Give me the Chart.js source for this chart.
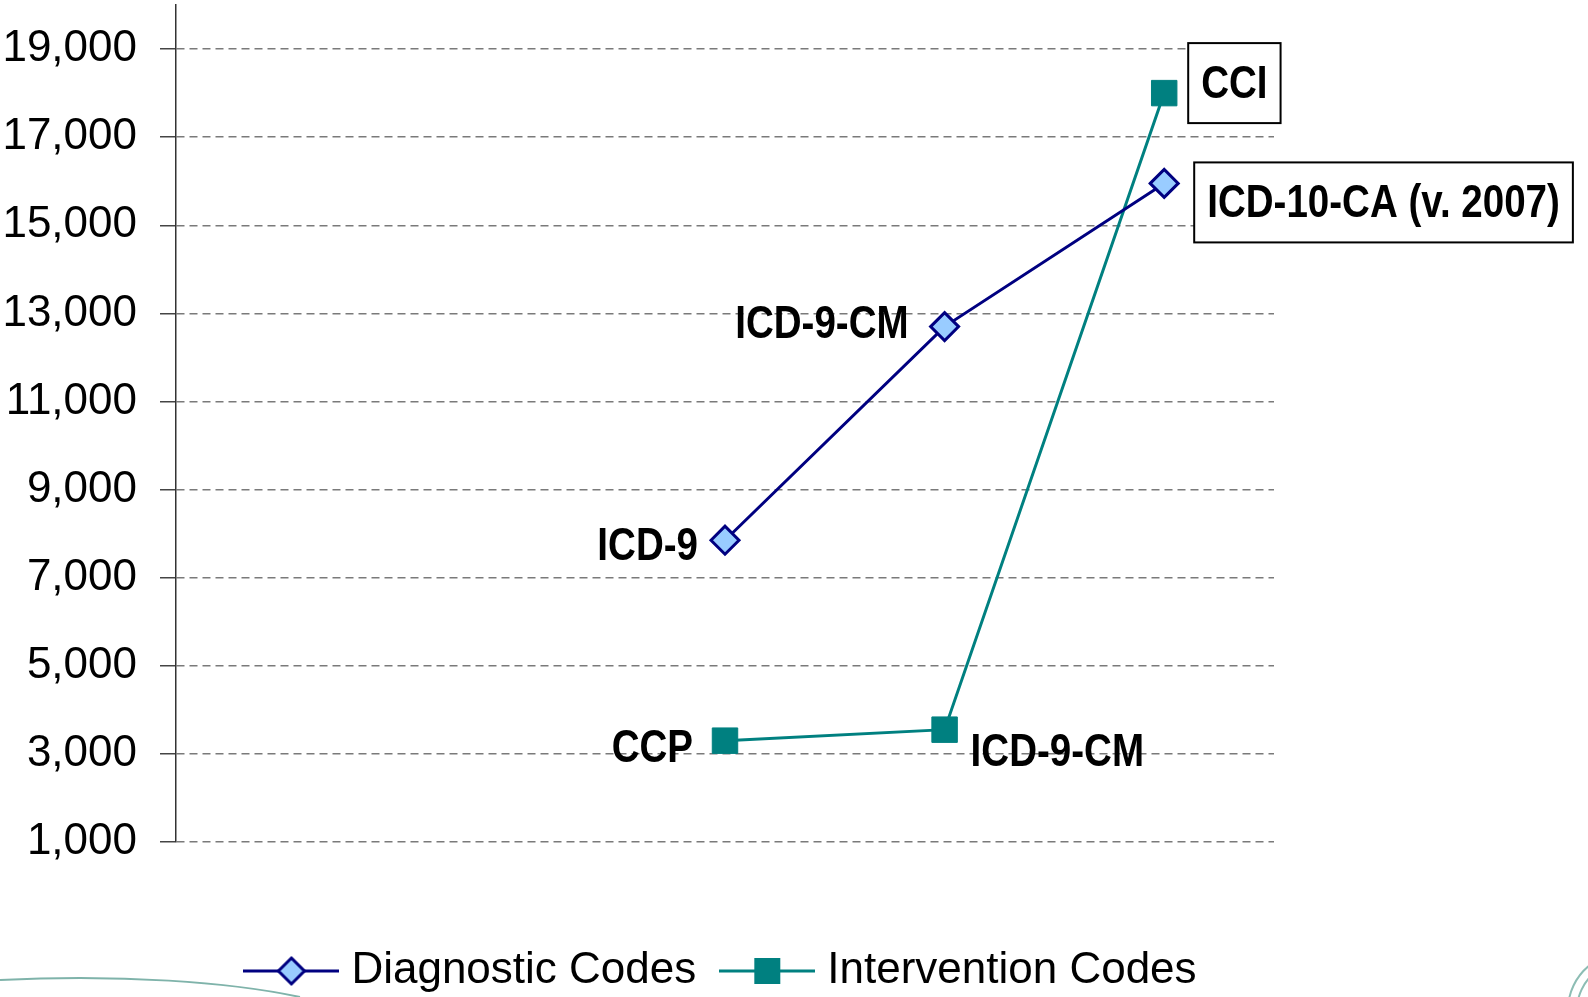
<!DOCTYPE html>
<html>
<head>
<meta charset="utf-8">
<script src="https://cdn.jsdelivr.net/npm/chart.js@4"></script>
<style>
  html, body { margin: 0; padding: 0; background: #fff; }
  #wrap { width: 1588px; height: 997px; position: relative; }
</style>
</head>
<body>
<div id="wrap"><canvas id="codesChart"></canvas></div>
<script>
// categories (x slots, not labelled on the chart)
const categories = ["", "", "ICD-9 / CCP", "ICD-9-CM", "ICD-10-CA / CCI"];

// number of codes
const diagnosticCodes = [null, null, 7850, 12700, 15950];
const interventionCodes = [null, null, 3300, 3550, 18000];

// classification name next to each point
const diagnosticNames = [null, null, "ICD-9", "ICD-9-CM", "ICD-10-CA (v. 2007)"];
const interventionNames = [null, null, "CCP", "ICD-9-CM", "CCI"];

const yTicks = [1000, 3000, 5000, 7000, 9000, 11000, 13000, 15000, 17000, 19000];

const SANS = "'Liberation Sans', Arial, sans-serif";
const NAVY = "#000080";
const LIGHT_BLUE = "#99ccff";
const TEAL = "#008080";

// where each name goes, relative to its point
const namePlacement = [
  { 2: { align: "right", dx: -27, dy: 5 }, 3: { align: "right", dx: -36, dy: -4 }, 4: { align: "left", dx: 30, dy: 19, box: true } },
  { 2: { align: "right", dx: -32, dy: 6 }, 3: { align: "left", dx: 26, dy: 21 }, 4: { align: "left", dx: 24, dy: -10, box: true } }
];

// line + marker symbol for the legend
function legendSymbol(kind, line, fill) {
  const c = document.createElement("canvas");
  c.width = 96;
  c.height = 32;
  const g = c.getContext("2d");
  g.strokeStyle = line;
  g.lineWidth = 3;
  g.beginPath();
  g.moveTo(0, 16);
  g.lineTo(96, 16);
  g.stroke();
  if (kind === "diamond") {
    g.beginPath();
    g.moveTo(48, 3); g.lineTo(61, 16); g.lineTo(48, 29); g.lineTo(35, 16);
    g.closePath();
    g.fillStyle = fill;
    g.fill();
    g.stroke();
  } else {
    g.fillStyle = fill;
    g.fillRect(35, 3, 26, 26);
  }
  return c;
}

// names drawn in a narrowed bold face, like the slide's Arial Narrow
const pointNames = {
  id: "pointNames",
  afterDatasetsDraw(chart) {
    const ctx = chart.ctx;
    const squeeze = 0.82;
    const allNames = [diagnosticNames, interventionNames];
    ctx.save();
    ctx.font = "bold 47px " + SANS;
    ctx.textBaseline = "middle";
    allNames.forEach((names, di) => {
      const meta = chart.getDatasetMeta(di);
      names.forEach((name, i) => {
        if (!name) return;
        const p = meta.data[i];
        const s = namePlacement[di][i];
        let x = p.x + s.dx;
        const y = p.y + s.dy;
        let align = s.align;
        if (s.box) {
          const w = ctx.measureText(name).width * squeeze;
          ctx.fillStyle = "#fff";
          ctx.fillRect(x, y - 40, w + 26, 80);
          ctx.strokeStyle = "#000";
          ctx.lineWidth = 2;
          ctx.strokeRect(x, y - 40, w + 26, 80);
          x += 13;
          align = "left";
        }
        ctx.save();
        ctx.translate(x, y + 2);
        ctx.scale(squeeze, 1);
        ctx.fillStyle = "#000";
        ctx.textAlign = align;
        ctx.fillText(name, 0, 0);
        ctx.restore();
      });
    });
    ctx.restore();
  }
};

// slide decoration at the bottom corners
const slideDecor = {
  id: "slideDecor",
  beforeDraw(chart) {
    const ctx = chart.ctx;
    ctx.save();
    ctx.strokeStyle = "#7fb3aa";
    ctx.lineWidth = 2;
    ctx.beginPath();
    ctx.moveTo(0, 980);
    ctx.bezierCurveTo(120, 974, 230, 982, 300, 997);
    ctx.stroke();
    ctx.strokeStyle = "#8dbdb4";
    ctx.beginPath();
    ctx.arc(1625, 1010, 57, Math.PI * 0.98, Math.PI * 1.3);
    ctx.stroke();
    ctx.beginPath();
    ctx.arc(1625, 1010, 48, Math.PI * 0.98, Math.PI * 1.3);
    ctx.stroke();
    ctx.restore();
  }
};

const ctx = document.getElementById("codesChart");

new Chart(ctx, {
  type: "line",
  data: {
    labels: categories,
    datasets: [
      {
        label: "Diagnostic Codes",
        data: diagnosticCodes,
        borderColor: NAVY,
        borderWidth: 3,
        pointStyle: "rectRot",
        pointRadius: 14,
        pointBackgroundColor: LIGHT_BLUE,
        pointBorderColor: NAVY,
        pointBorderWidth: 3,
        tension: 0
      },
      {
        label: "Intervention Codes",
        data: interventionCodes,
        borderColor: TEAL,
        borderWidth: 3,
        pointStyle: "rect",
        pointRadius: 18,
        pointBackgroundColor: TEAL,
        pointBorderColor: TEAL,
        pointBorderWidth: 1,
        tension: 0
      }
    ]
  },
  options: {
    responsive: true,
    maintainAspectRatio: false,
    animation: false,
    layout: { autoPadding: false, padding: { top: 5, right: 314, bottom: -6, left: 0 } },
    plugins: {
      tooltip: { enabled: false },
      legend: {
        position: "bottom",
        fullSize: false,
        labels: {
          usePointStyle: true,
          pointStyleWidth: 76,
          padding: 33,
          color: "#000",
          font: { family: SANS, size: 44 },
          generateLabels(chart) {
            const items = Chart.defaults.plugins.legend.labels.generateLabels(chart);
            items[0].pointStyle = legendSymbol("diamond", NAVY, LIGHT_BLUE);
            items[1].pointStyle = legendSymbol("square", TEAL, TEAL);
            return items;
          }
        }
      }
    },
    scales: {
      x: {
        offset: true,
        ticks: { display: false },
        grid: { display: false },
        border: { display: false },
        afterFit(scale) { scale.height = 74; }
      },
      y: {
        min: 1000,
        max: 20000,
        afterBuildTicks(scale) { scale.ticks = yTicks.map(v => ({ value: v })); },
        afterFit(scale) {
          scale.width = 176;
          scale.paddingTop = 0;
          scale.paddingBottom = 0;
        },
        ticks: {
          padding: 23,
          color: "#000",
          font: { family: SANS, size: 44 },
          callback: v => v.toLocaleString("en-US")
        },
        grid: {
          color: "#7a7a7a",
          lineWidth: 1.5,
          tickLength: 16,
          tickColor: "#444",
          tickWidth: 1.5,
          tickBorderDash: []
        },
        border: { display: true, color: "#333", width: 1.5, dash: [8, 5] }
      }
    }
  },
  plugins: [slideDecor, pointNames]
});
</script>
</body>
</html>
